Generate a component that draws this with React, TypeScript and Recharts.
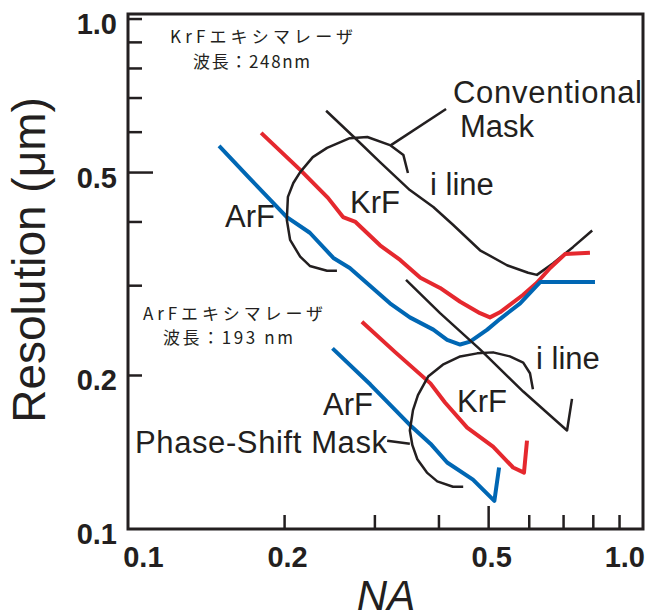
import React from "react";
import {
  LineChart,
  Line,
  XAxis,
  YAxis,
  ReferenceArea,
  Customized,
} from "recharts";

// axes (log-log)
const xTicks = [0.1, 0.2, 0.3, 0.4, 0.5, 0.6, 0.7, 0.8, 0.9, 1.0];
const yTicks = [0.1, 0.2, 0.3, 0.4, 0.5, 0.6, 0.7, 0.8, 0.9, 1.0];
const labeledTicks = [0.1, 0.2, 0.5, 1.0];

// Conventional mask
const iLineConvNA = [0.241, 0.273, 0.307, 0.351, 0.39, 0.426, 0.481, 0.543, 0.597, 0.621, 0.668, 0.73, 0.796];
const iLineConvRes = [0.661, 0.587, 0.524, 0.462, 0.428, 0.395, 0.352, 0.329, 0.318, 0.315, 0.332, 0.357, 0.385];

const krfConvNA = [0.18, 0.2145, 0.243, 0.26, 0.275, 0.307, 0.336, 0.368, 0.402, 0.44, 0.481, 0.503, 0.526, 0.584, 0.621, 0.659, 0.705, 0.788];
const krfConvRes = [0.598, 0.506, 0.446, 0.409, 0.4, 0.36, 0.337, 0.311, 0.297, 0.279, 0.265, 0.26, 0.266, 0.288, 0.304, 0.325, 0.346, 0.348];

const arfConvNA = [0.149, 0.171, 0.202, 0.224, 0.249, 0.268, 0.298, 0.321, 0.351, 0.39, 0.415, 0.44, 0.46, 0.497, 0.526, 0.576, 0.63, 0.806];
const arfConvRes = [0.564, 0.487, 0.409, 0.381, 0.34, 0.325, 0.296, 0.277, 0.26, 0.246, 0.235, 0.23, 0.233, 0.246, 0.258, 0.277, 0.305, 0.305];

// Phase-shift mask
const iLinePsmNA = [0.345, 0.402, 0.481, 0.584, 0.65, 0.711, 0.727];
const iLinePsmRes = [0.308, 0.265, 0.225, 0.186, 0.169, 0.156, 0.18];

const krfPsmNA = [0.283, 0.329, 0.385, 0.411, 0.454, 0.51, 0.558, 0.586, 0.594];
const krfPsmRes = [0.255, 0.222, 0.193, 0.177, 0.158, 0.145, 0.132, 0.129, 0.149];

const arfPsmNA = [0.248, 0.294, 0.351, 0.385, 0.415, 0.466, 0.513, 0.524];
const arfPsmRes = [0.226, 0.192, 0.16, 0.147, 0.135, 0.125, 0.1135, 0.132];

// hand drawn brackets
const convArcNA = [0.253, 0.242, 0.224, 0.2145, 0.205, 0.202, 0.203, 0.208, 0.2145, 0.227, 0.242, 0.268, 0.29, 0.321, 0.341, 0.348];
const convArcRes = [0.321, 0.321, 0.328, 0.342, 0.369, 0.404, 0.448, 0.477, 0.501, 0.536, 0.559, 0.584, 0.587, 0.566, 0.541, 0.499];
const convLeaderNA = [0.3225, 0.413];
const convLeaderRes = [0.566, 0.666];

const psmArcNA = [0.446, 0.426, 0.397, 0.379, 0.363, 0.355, 0.351, 0.356, 0.364, 0.381, 0.407, 0.44, 0.475, 0.51, 0.55, 0.584, 0.602, 0.61];
const psmArcRes = [0.121, 0.121, 0.124, 0.129, 0.137, 0.146, 0.156, 0.171, 0.183, 0.199, 0.21, 0.218, 0.221, 0.222, 0.218, 0.212, 0.202, 0.188];
const psmLeaderNA = [0.317, 0.351];
const psmLeaderRes = [0.149, 0.147];

const pts = (na: number[], res: number[]) => na.map((v, i) => ({ na: v, res: res[i] }));

const INK = "#231f20";
const RED = "#e5282e";
const BLUE = "#0067b4";
const SANS = "'Liberation Sans', Arial, Helvetica, sans-serif";
const CJK = "'Noto Sans CJK JP', sans-serif";

const XTick = (props: any) => {
  const { x, y, payload } = props;
  const v = payload.value;
  const len = v === 0.5 ? 23 : 14;
  const showLine = v > 0.1 && v < 1;
  const label = labeledTicks.includes(v) ? v.toFixed(1) : null;
  const anchor = v === 0.1 ? "start" : v === 1 ? "end" : "middle";
  const dx = v === 0.1 ? -7 : v === 1 ? 2 : 3;
  return (
    <g>
      {showLine && <line x1={x} x2={x} y1={y} y2={y - len} stroke={INK} strokeWidth={2.5} />}
      {label && (
        <text x={x + dx} y={y + 38} textAnchor={anchor} fontFamily={SANS} fontWeight="bold" fontSize={29} fill={INK}>
          {label}
        </text>
      )}
    </g>
  );
};

const YTick = (props: any) => {
  const { x, y, payload } = props;
  const v = payload.value;
  const len = v === 0.5 ? 25 : 14;
  const showLine = v > 0.1;
  const label = labeledTicks.includes(v) ? v.toFixed(1) : null;
  return (
    <g>
      {showLine && <line x1={x} x2={x + len} y1={y} y2={y} stroke={INK} strokeWidth={2.5} />}
      {label && (
        <text x={x - 11} y={y + 5} dominantBaseline="central" textAnchor="end" fontFamily={SANS} fontWeight="bold" fontSize={29} fill={INK}>
          {label}
        </text>
      )}
    </g>
  );
};

const Annotations = () => (
  <g fill={INK}>
    <text x={170} y={43} fontFamily={CJK} fontSize={17} textLength={183} lengthAdjust="spacing">KrFエキシマレーザ</text>
    <text x={193} y={68} fontFamily={CJK} fontSize={17} textLength={117} lengthAdjust="spacing">波長：248nm</text>
    <text x={143} y={320} fontFamily={CJK} fontSize={17} textLength={180} lengthAdjust="spacing">ArFエキシマレーザ</text>
    <text x={163} y={344} fontFamily={CJK} fontSize={17} textLength={130} lengthAdjust="spacing">波長：193 nm</text>
    <g fontFamily={SANS} fontSize={31}>
      <text x={453} y={103} textLength={189} lengthAdjust="spacing">Conventional</text>
      <text x={460} y={137}>Mask</text>
      <text x={430} y={195}>i line</text>
      <text x={350} y={213}>KrF</text>
      <text x={225} y={227}>ArF</text>
      <text x={323} y={415}>ArF</text>
      <text x={135} y={453} textLength={252} lengthAdjust="spacing">Phase-Shift Mask</text>
      <text x={457} y={412}>KrF</text>
      <text x={536} y={369}>i line</text>
    </g>
    <text
      transform="translate(45,260) rotate(-90)"
      textAnchor="middle"
      fontFamily={SANS}
      fontSize={46}
    >
      Resolution (μm)
    </text>
    <text x={386} y={610} textAnchor="middle" fontFamily={SANS} fontStyle="italic" fontSize={42}>
      NA
    </text>
  </g>
);

const series = [
  { key: "iLineConv", data: pts(iLineConvNA, iLineConvRes), color: INK, width: 2.5 },
  { key: "krfConv", data: pts(krfConvNA, krfConvRes), color: RED, width: 4 },
  { key: "arfConv", data: pts(arfConvNA, arfConvRes), color: BLUE, width: 4 },
  { key: "iLinePsm", data: pts(iLinePsmNA, iLinePsmRes), color: INK, width: 2.5 },
  { key: "krfPsm", data: pts(krfPsmNA, krfPsmRes), color: RED, width: 4 },
  { key: "arfPsm", data: pts(arfPsmNA, arfPsmRes), color: BLUE, width: 4 },
  { key: "convArc", data: pts(convArcNA, convArcRes), color: INK, width: 2.5 },
  { key: "convLeader", data: pts(convLeaderNA, convLeaderRes), color: INK, width: 2.5 },
  { key: "psmArc", data: pts(psmArcNA, psmArcRes), color: INK, width: 2.5 },
  { key: "psmLeader", data: pts(psmLeaderNA, psmLeaderRes), color: INK, width: 2.5 },
];

export default function App() {
  return (
    <div style={{ position: "absolute", left: 0, top: 0, width: 653, height: 616, background: "#fff" }}>
      <LineChart width={653} height={616} margin={{ top: 14, right: 10, bottom: 47, left: 68 }}>
        <XAxis
          type="number"
          dataKey="na"
          scale="log"
          domain={[0.099, 1]}
          allowDataOverflow
          ticks={xTicks}
          interval={0}
          height={40}
          axisLine={false}
          tickLine={false}
          tickSize={0}
          tickMargin={0}
          tick={(p: any) => <XTick {...p} />}
        />
        <YAxis
          type="number"
          dataKey="res"
          scale="log"
          domain={[0.1, 1.023]}
          allowDataOverflow
          ticks={yTicks}
          interval={0}
          width={60}
          axisLine={false}
          tickLine={false}
          tickSize={0}
          tickMargin={0}
          tick={(p: any) => <YTick {...p} />}
        />
        <ReferenceArea
          x1={0.099}
          x2={1}
          y1={0.1}
          y2={1.023}
          fill="none"
          fillOpacity={0}
          stroke={INK}
          strokeWidth={3}
        />
        {series.map((s) => (
          <Line
            key={s.key}
            data={s.data}
            dataKey="res"
            type="linear"
            stroke={s.color}
            strokeWidth={s.width}
            strokeLinejoin="round"
            dot={false}
            activeDot={false}
            isAnimationActive={false}
          />
        ))}
        <Customized component={Annotations} />
      </LineChart>
    </div>
  );
}
